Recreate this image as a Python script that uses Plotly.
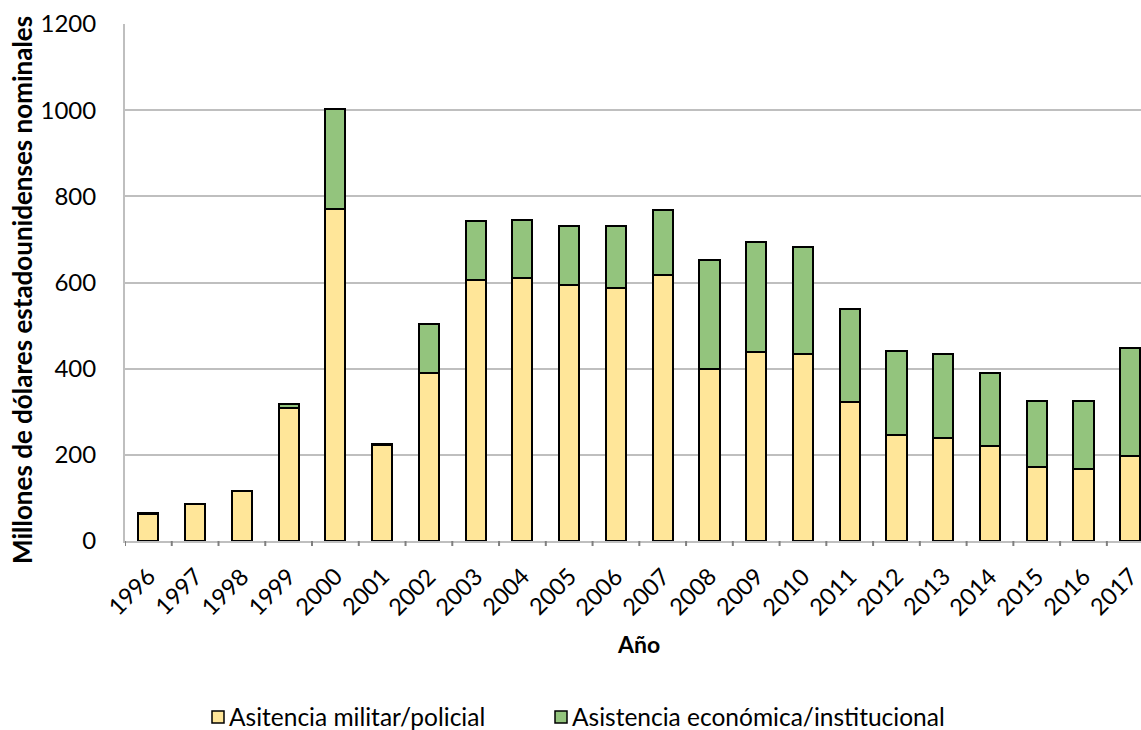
import plotly.graph_objects as go

# Annual assistance, millions of nominal US dollars
years = ["1996", "1997", "1998", "1999", "2000", "2001", "2002", "2003", "2004", "2005", "2006",
         "2007", "2008", "2009", "2010", "2011", "2012", "2013", "2014", "2015", "2016", "2017"]
militar = [63, 85, 115, 308, 771, 222, 389, 606, 610, 595, 588,
           618, 400, 438, 433, 323, 245, 239, 220, 172, 168, 198]
economica = [2, 0, 1, 10, 232, 2, 115, 137, 135, 136, 144,
             151, 252, 256, 249, 215, 197, 195, 171, 152, 156, 250]

y_ticks = [0, 200, 400, 600, 800, 1000, 1200]

series_names = ["Asitencia militar/policial", "Asistencia económica/institucional"]
series_colors = ["#FFE699", "#93C47D"]

FONT = "Lato, 'Open Sans', sans-serif"
GRID = "#BFBFBF"

W, H = 1141, 730
M_L, M_R, M_T, M_B = 125, 0, 24, 189
PW, PH = W - M_L - M_R, H - M_T - M_B


def px_x(px):
    """Page pixel column -> paper x."""
    return (px - M_L) / PW


def px_y(py):
    """Page pixel row -> paper y."""
    return (H - M_B - py) / PH


fig = go.Figure()
for vals, name, color in zip([militar, economica], series_names, series_colors):
    fig.add_trace(go.Bar(
        x=years, y=vals, name=name,
        marker=dict(color=color, line=dict(color="black", width=2)),
        width=0.43, showlegend=False,
    ))

shapes = []
annotations = []

# Short tick marks on the category boundaries of the x axis
for i in range(len(years) + 1):
    shapes.append(dict(
        type="line", xref="x", yref="paper",
        x0=i - 0.5, x1=i - 0.5, y0=0, y1=-5 / PH,
        line=dict(color="#7F7F7F", width=2),
    ))

# Slanted year labels under each category (positioned by category index)
for i, yr in enumerate(years):
    annotations.append(dict(
        text=yr, xref="x", yref="paper", x=i, y=px_y(591), xshift=-17,
        xanchor="center", yanchor="middle", textangle=-45, showarrow=False,
        font=dict(size=23.5, family=FONT, color="black"),
    ))

# Legend drawn as small boxes with labels beside them
legend_items = [(212, 227), (555, 570)]
for (box_x, text_x), name, color in zip(legend_items, series_names, series_colors):
    shapes.append(dict(
        type="rect", xref="paper", yref="paper",
        x0=px_x(box_x), x1=px_x(box_x + 12), y0=px_y(723), y1=px_y(711),
        fillcolor=color, line=dict(color="black", width=1.5),
    ))
    annotations.append(dict(
        text=name, xref="paper", yref="paper", x=px_x(text_x), y=px_y(716),
        xanchor="left", yanchor="middle", showarrow=False,
        font=dict(size=24.5, family=FONT, color="black"),
    ))

# Axis titles
annotations.append(dict(
    text="<b>Millones de dólares estadounidenses nominales</b>",
    xref="paper", yref="paper", x=px_x(22), y=px_y(290),
    xanchor="center", yanchor="middle", textangle=-90, showarrow=False,
    font=dict(size=26, family=FONT, color="black"),
))
annotations.append(dict(
    text="<b>Año</b>", xref="paper", yref="paper", x=px_x(638), y=px_y(644),
    xanchor="center", yanchor="middle", showarrow=False,
    font=dict(size=23, family=FONT, color="black"),
))

fig.update_layout(
    barmode="stack",
    width=W, height=H,
    margin=dict(l=M_L, r=M_R, t=M_T, b=M_B),
    paper_bgcolor="white", plot_bgcolor="white",
    font=dict(family=FONT, color="black", size=20),
    showlegend=False,
    shapes=shapes,
    annotations=annotations,
    xaxis=dict(
        type="category",
        range=[-0.5, 21.23],
        automargin=False,
        showline=True, linecolor=GRID, linewidth=2,
        ticks="", showticklabels=False,
        showgrid=False,
    ),
    yaxis=dict(
        range=[0, 1200], tickvals=y_ticks,
        automargin=False,
        showline=True, linecolor=GRID, linewidth=2,
        showgrid=True, gridcolor=GRID, gridwidth=2,
        ticks="", ticklabelstandoff=22, tickfont=dict(size=24),
        zeroline=False,
    ),
)

fig.write_html("out.html")
